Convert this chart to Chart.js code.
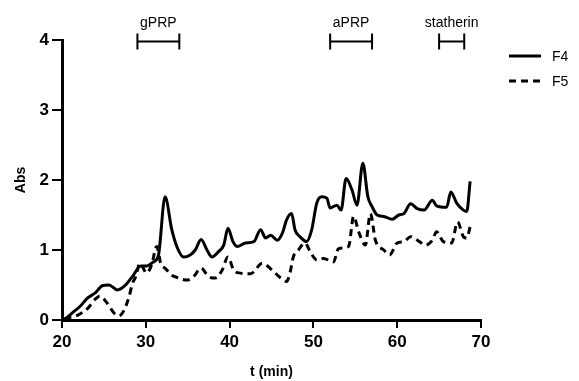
<!DOCTYPE html>
<html>
<head>
<meta charset="utf-8">
<script src="https://cdn.jsdelivr.net/npm/chart.js@4.4.1/dist/chart.umd.min.js"></script>
<style>
  html, body { margin: 0; padding: 0; background: #fff; }
  #wrap { width: 579px; height: 381px; position: relative; }
</style>
</head>
<body>
<div id="wrap"><canvas id="absChart"></canvas></div>
<script>
// Data (time in min, absorbance)
const f4Time = [20.0, 20.3, 21.4, 22.2, 23.0, 24.0, 24.8, 25.6, 26.6, 27.4, 28.4, 29.4, 30.1, 30.9, 31.5, 32.3, 33.1, 33.7, 34.5, 35.3, 35.9, 36.6, 37.3, 37.9, 38.7, 39.3, 39.8, 40.4, 40.9, 41.9, 42.9, 43.7, 44.3, 44.9, 45.7, 46.3, 46.8, 47.4, 47.8, 48.4, 49.2, 49.8, 50.4, 51.0, 51.6, 52.0, 52.8, 53.3, 53.9, 54.6, 55.2, 55.9, 56.5, 57.0, 57.6, 58.4, 59.4, 60.2, 60.8, 61.6, 62.4, 63.2, 64.2, 64.7, 65.9, 66.4, 67.1, 67.9, 68.3, 68.7];
const f4Abs = [0, 0.01, 0.12, 0.2, 0.31, 0.39, 0.49, 0.50, 0.43, 0.48, 0.62, 0.77, 0.77, 0.83, 0.92, 1.76, 1.29, 1.05, 0.90, 0.93, 1.00, 1.15, 1.00, 0.90, 0.98, 1.07, 1.31, 1.12, 1.05, 1.10, 1.12, 1.29, 1.17, 1.21, 1.14, 1.24, 1.43, 1.52, 1.29, 1.19, 1.12, 1.29, 1.67, 1.76, 1.74, 1.60, 1.64, 1.57, 2.02, 1.86, 1.64, 2.24, 1.76, 1.62, 1.50, 1.48, 1.44, 1.50, 1.52, 1.66, 1.59, 1.57, 1.71, 1.63, 1.61, 1.83, 1.67, 1.57, 1.55, 1.98];

const f5Time = [20.3, 21.0, 21.9, 23.1, 23.9, 24.5, 25.4, 26.2, 26.8, 27.4, 28.0, 28.4, 28.8, 29.3, 30.1, 30.7, 31.3, 31.8, 32.3, 33.1, 33.9, 34.9, 35.7, 36.6, 37.5, 38.3, 39.1, 39.8, 40.5, 41.3, 42.5, 43.9, 45.1, 46.1, 46.8, 47.2, 47.6, 48.2, 49.0, 49.6, 50.4, 51.2, 52.4, 53.0, 54.2, 54.8, 55.4, 56.2, 56.8, 57.4, 58.4, 59.1, 60.0, 60.8, 61.6, 62.4, 63.4, 64.2, 64.7, 65.5, 66.5, 67.2, 67.9, 68.3, 68.7];
const f5Abs = [0.02, 0.04, 0.07, 0.17, 0.29, 0.34, 0.24, 0.10, 0.06, 0.14, 0.33, 0.52, 0.62, 0.81, 0.67, 0.79, 1.05, 0.80, 0.74, 0.64, 0.60, 0.57, 0.62, 0.74, 0.62, 0.60, 0.71, 0.90, 0.71, 0.67, 0.66, 0.81, 0.71, 0.60, 0.55, 0.67, 0.90, 1.00, 1.10, 0.98, 0.86, 0.88, 0.83, 1.02, 1.05, 1.48, 1.26, 1.07, 1.52, 1.14, 1.00, 0.93, 1.10, 1.12, 1.19, 1.14, 1.07, 1.14, 1.26, 1.12, 1.10, 1.40, 1.19, 1.17, 1.33];

// Fraction windows marked above the plot
const bracketLabels = ['gPRP', 'aPRP', 'statherin'];
const bracketStart = [29, 52, 65];
const bracketEnd = [34, 57, 68];

const xTicks = [20, 30, 40, 50, 60, 70];
const yTicks = [0, 1, 2, 3, 4];

const FONT = "'Liberation Sans', Arial, Helvetica, sans-serif";

function toPoints(xs, ys) {
    return xs.map((t, i) => ({ x: t, y: ys[i] }));
}

// brackets with labels over the elution windows
const bracketPlugin = {
    id: 'brackets',
    afterDraw(chart) {
        const { ctx, scales: { x, y } } = chart;
        const yy = y.getPixelForValue(yTicks[yTicks.length - 1]) + 1.5;
        ctx.save();
        ctx.strokeStyle = '#000';
        ctx.fillStyle = '#000';
        ctx.lineWidth = 2;
        ctx.font = '14px ' + FONT;
        ctx.textAlign = 'center';
        ctx.textBaseline = 'alphabetic';
        bracketLabels.forEach((label, i) => {
            const x1 = x.getPixelForValue(bracketStart[i]);
            const x2 = x.getPixelForValue(bracketEnd[i]);
            ctx.beginPath();
            ctx.moveTo(x1, yy);
            ctx.lineTo(x2, yy);
            ctx.moveTo(x1, yy - 8);
            ctx.lineTo(x1, yy + 8);
            ctx.moveTo(x2, yy - 8);
            ctx.lineTo(x2, yy + 8);
            ctx.stroke();
            ctx.fillText(label, (x1 + x2) / 2, yy - 15);
        });
        ctx.restore();
    }
};

// legend on the right, line samples + names
const legendPlugin = {
    id: 'sideLegend',
    afterDraw(chart) {
        const { ctx } = chart;
        ctx.save();
        ctx.font = '14px ' + FONT;
        ctx.textBaseline = 'middle';
        ctx.textAlign = 'left';
        chart.data.datasets.forEach((ds, i) => {
            const yy = 56 + i * 25;
            ctx.strokeStyle = ds.borderColor;
            ctx.lineWidth = 3;
            ctx.setLineDash(ds.borderDash || []);
            ctx.beginPath();
            ctx.moveTo(509, yy);
            ctx.lineTo(541, yy);
            ctx.stroke();
            ctx.setLineDash([]);
            ctx.fillStyle = '#000';
            ctx.fillText(ds.label, 552, yy + 1);
        });
        ctx.restore();
    }
};

const ctx = document.getElementById('absChart').getContext('2d');

const absChart = new Chart(ctx, {
    type: 'line',
    data: {
        datasets: [
            {
                label: 'F4',
                data: toPoints(f4Time, f4Abs),
                borderColor: '#000',
                borderWidth: 3,
                pointRadius: 0,
                fill: false,
                cubicInterpolationMode: 'monotone'
            },
            {
                label: 'F5',
                data: toPoints(f5Time, f5Abs),
                borderColor: '#000',
                borderWidth: 3,
                borderDash: [7, 5],
                pointRadius: 0,
                fill: false,
                cubicInterpolationMode: 'monotone'
            }
        ]
    },
    options: {
        responsive: true,
        maintainAspectRatio: false,
        animation: false,
        layout: { padding: { left: 0, right: 98, top: 40, bottom: 0 } },
        plugins: {
            legend: { display: false },
            tooltip: { enabled: false }
        },
        scales: {
            x: {
                type: 'linear',
                min: xTicks[0],
                max: xTicks[xTicks.length - 1],
                afterBuildTicks: scale => { scale.ticks = xTicks.map(v => ({ value: v })); },
                afterFit: scale => { scale.height = 61; },
                border: { display: true, color: '#000', width: 3 },
                grid: { display: true, drawOnChartArea: false, drawTicks: true, tickLength: 8, color: '#000', lineWidth: 2 },
                ticks: { color: '#000', padding: 4, font: { family: FONT, size: 17, weight: 'bold' } },
                title: { display: true, text: 't (min)', color: '#000', padding: { top: 0, bottom: 0 }, font: { family: FONT, size: 14, weight: 'bold' } }
            },
            y: {
                min: yTicks[0],
                max: yTicks[yTicks.length - 1],
                afterBuildTicks: scale => { scale.ticks = yTicks.map(v => ({ value: v })); },
                afterFit: scale => { scale.width = 62; },
                border: { display: true, color: '#000', width: 3 },
                grid: { display: true, drawOnChartArea: false, drawTicks: true, tickLength: 10, color: '#000', lineWidth: 2 },
                ticks: { color: '#000', padding: 3, font: { family: FONT, size: 17, weight: 'bold' } },
                title: { display: true, text: 'Abs', color: '#000', padding: { top: 13, bottom: 0 }, font: { family: FONT, size: 14, weight: 'bold' } }
            }
        }
    },
    plugins: [bracketPlugin, legendPlugin]
});
</script>
</body>
</html>
